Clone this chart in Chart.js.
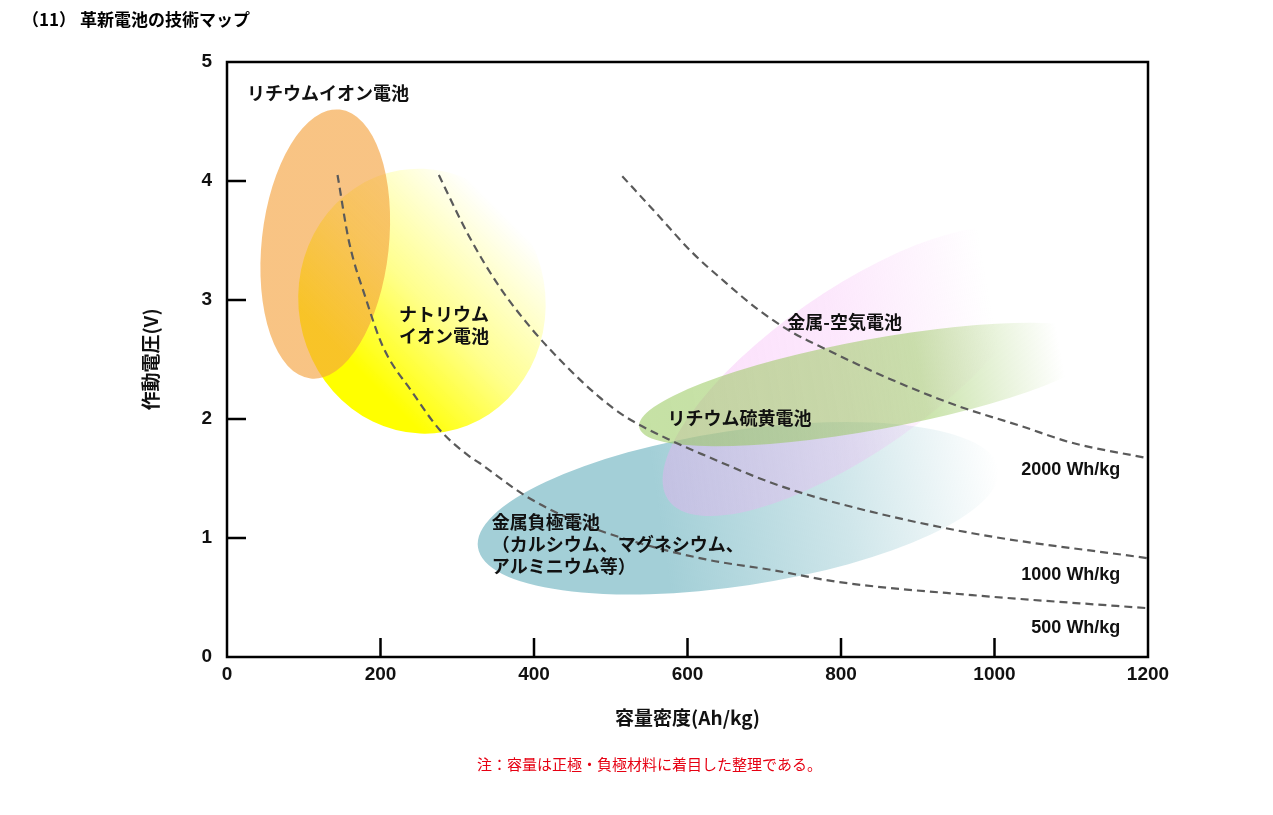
<!DOCTYPE html>
<html lang="ja">
<head>
<meta charset="UTF-8">
<title>革新電池の技術マップ</title>
<script src="https://cdn.jsdelivr.net/npm/chart.js"></script>
<style>
  html, body { margin: 0; padding: 0; background: #fff; }
  #wrap { width: 1273px; height: 815px; }
</style>
</head>
<body>
<div id="wrap"><canvas id="map" width="1273" height="815"></canvas></div>
<script>
// axis ticks
const capacityTicks = [0, 200, 400, 600, 800, 1000, 1200];
const voltageTicks = [0, 1, 2, 3, 4, 5];

// energy density curves (Ah/kg, V)
const curveNames = ['500 Wh/kg', '1000 Wh/kg', '2000 Wh/kg'];
const cap500 = [144, 159, 181, 203, 242, 277, 315, 329, 390, 451, 520, 624, 711, 797, 971, 1200];
const volt500 = [4.05, 3.49, 3.01, 2.61, 2.22, 1.91, 1.69, 1.63, 1.35, 1.15, 0.99, 0.82, 0.73, 0.63, 0.52, 0.41];
const cap1000 = [276, 315, 354, 398, 441, 484, 519, 575, 624, 711, 797, 971, 1200];
const volt1000 = [4.05, 3.54, 3.12, 2.75, 2.45, 2.19, 2.02, 1.83, 1.69, 1.46, 1.29, 1.04, 0.83];
const cap2000 = [515, 562, 606, 649, 692, 736, 779, 866, 952, 1035, 1101, 1200];
const volt2000 = [4.04, 3.71, 3.40, 3.15, 2.92, 2.73, 2.59, 2.33, 2.11, 1.94, 1.80, 1.67];

// battery regions: centre, end of long axis (Ah/kg, V) and short/long axis ratio
const regionNames = ['金属負極電池', '金属-空気電池', 'リチウム硫黄電池', 'ナトリウムイオン電池', 'リチウムイオン電池'];
const regionCap = [666, 815, 842, 254, 128];
const regionVolt = [1.25, 2.40, 2.29, 2.99, 3.47];
const regionEndCap = [1005, 1055, 1147, 225, 147];
const regionEndVolt = [1.58, 3.48, 2.65, 4.09, 4.60];
const regionRatio = [0.295, 0.36, 0.19, 0.93, 0.47];

const JP = '"Noto Sans CJK JP", "Noto Sans", sans-serif';
const NUM = '"Liberation Sans", Arial, sans-serif';

// fill of each region; dir: null = along long axis, otherwise screen angle in degrees
const regionStyle = [
  { rgb: [140, 195, 205], dir: null, from: -1, to: 1, stops: [[0, 0.8], [0.35, 0.8], [0.7, 0.42], [1, 0]] },
  { rgb: [245, 170, 245], dir: 10, from: -0.92, to: 0.66, stops: [[0, 0.38], [0.55, 0.28], [0.85, 0.1], [1, 0]] },
  { rgb: [150, 200, 90], dir: null, from: -1, to: 1, stops: [[0, 0.55], [0.6, 0.5], [0.9, 0]] },
  { rgb: [255, 255, 0], dir: 45, from: -0.7, to: 0.9, stops: [[0, 1], [0.44, 0.45], [1, 0]] },
  { rgb: [244, 162, 62], dir: null, from: -1, to: 1, stops: [[0, 0.64], [1, 0.64]] }
];

// where the texts sit (Ah/kg, V)
const regionText = [
  { lines: ['金属負極電池', '（カルシウム、マグネシウム、', 'アルミニウム等）'], cap: 345, volt: 1.13 },
  { lines: ['金属-空気電池'], cap: 730, volt: 2.81 },
  { lines: ['リチウム硫黄電池'], cap: 574, volt: 2.01 },
  { lines: ['ナトリウム', 'イオン電池'], cap: 224, volt: 2.88 },
  { lines: ['リチウムイオン電池'], cap: 26, volt: 4.74 }
];
const curveText = [{ cap: 1164, volt: 0.244 }, { cap: 1164, volt: 0.69 }, { cap: 1164, volt: 1.575 }];

function rgba(c, a) { return 'rgba(' + c[0] + ',' + c[1] + ',' + c[2] + ',' + a + ')'; }

const mapPlugin = {
  id: 'mapPlugin',
  beforeDatasetsDraw(chart) {
    const ctx = chart.ctx, xs = chart.scales.x, ys = chart.scales.y, area = chart.chartArea;
    ctx.save();
    ctx.beginPath();
    ctx.rect(area.left, area.top, area.right - area.left, area.bottom - area.top);
    ctx.clip();
    regionNames.forEach((name, i) => {
      const cx = xs.getPixelForValue(regionCap[i]), cy = ys.getPixelForValue(regionVolt[i]);
      const ex = xs.getPixelForValue(regionEndCap[i]), ey = ys.getPixelForValue(regionEndVolt[i]);
      const a = Math.hypot(ex - cx, ey - cy);
      const b = a * regionRatio[i];
      const rot = Math.atan2(ey - cy, ex - cx);
      const st = regionStyle[i];
      const ang = st.dir === null ? rot : -st.dir * Math.PI / 180;
      const ux = Math.cos(ang), uy = Math.sin(ang);
      const g = ctx.createLinearGradient(cx + ux * a * st.from, cy + uy * a * st.from, cx + ux * a * st.to, cy + uy * a * st.to);
      st.stops.forEach(s => g.addColorStop(s[0], rgba(st.rgb, s[1])));
      ctx.beginPath();
      ctx.ellipse(cx, cy, a, b, rot, 0, Math.PI * 2);
      ctx.fillStyle = g;
      ctx.fill();
    });
    ctx.restore();
  },
  afterDatasetsDraw(chart) {
    const ctx = chart.ctx, xs = chart.scales.x, ys = chart.scales.y, area = chart.chartArea;
    ctx.save();
    ctx.fillStyle = '#111';
    ctx.textBaseline = 'middle';
    ctx.textAlign = 'left';
    ctx.font = 'bold 18px ' + JP;
    regionText.forEach(t => {
      const x = xs.getPixelForValue(t.cap), y = ys.getPixelForValue(t.volt);
      t.lines.forEach((l, k) => ctx.fillText(l, x, y + k * 22));
    });
    ctx.textAlign = 'right';
    ctx.font = 'bold 18px ' + NUM;
    curveNames.forEach((n, i) => {
      ctx.fillText(n, xs.getPixelForValue(curveText[i].cap), ys.getPixelForValue(curveText[i].volt));
    });

    // frame and inward ticks
    ctx.strokeStyle = '#000';
    ctx.lineWidth = 2.5;
    ctx.strokeRect(area.left, area.top, area.right - area.left, area.bottom - area.top);
    ctx.beginPath();
    capacityTicks.slice(1, -1).forEach(v => {
      const x = xs.getPixelForValue(v);
      ctx.moveTo(x, area.bottom);
      ctx.lineTo(x, area.bottom - 19);
    });
    voltageTicks.slice(1, -1).forEach(v => {
      const y = ys.getPixelForValue(v);
      ctx.moveTo(area.left, y);
      ctx.lineTo(area.left + 19, y);
    });
    ctx.stroke();

    // heading and note
    ctx.textAlign = 'left';
    ctx.fillStyle = '#000';
    ctx.font = 'bold 17px ' + JP;
    ctx.fillText('（11） 革新電池の技術マップ', 22, 20);
    ctx.fillStyle = '#e60012';
    ctx.font = '15px ' + JP;
    ctx.fillText('注：容量は正極・負極材料に着目した整理である。', 477, 764);
    ctx.restore();
  }
};

const curveCap = [cap500, cap1000, cap2000];
const curveVolt = [volt500, volt1000, volt2000];

new Chart(document.getElementById('map'), {
  type: 'line',
  data: {
    datasets: curveNames.map((n, i) => ({
      label: n,
      data: curveCap[i].map((c, j) => ({ x: c, y: curveVolt[i][j] })),
      borderColor: '#5a5a5a',
      borderWidth: 2.2,
      borderDash: [8, 5],
      pointRadius: 0,
      fill: false,
      tension: 0.4,
      cubicInterpolationMode: 'monotone'
    }))
  },
  options: {
    responsive: false,
    animation: false,
    events: [],
    layout: { padding: { left: 0, top: 62, right: 125, bottom: 0 } },
    plugins: { legend: { display: false }, tooltip: { enabled: false } },
    scales: {
      x: {
        type: 'linear', min: 0, max: 1200,
        afterBuildTicks: s => { s.ticks = capacityTicks.map(v => ({ value: v })); },
        afterFit: s => { s.height = 158; },
        grid: { display: false, drawTicks: false },
        border: { display: false },
        ticks: { color: '#111', padding: 6, callback: v => String(v),
          font: { family: NUM, size: 19, weight: 'bold' } },
        title: { display: true, text: '容量密度(Ah/kg)', color: '#111', padding: { top: 0, bottom: 86 },
          font: { family: JP, size: 19, weight: 'bold' } }
      },
      y: {
        type: 'linear', min: 0, max: 5,
        afterBuildTicks: s => { s.ticks = voltageTicks.map(v => ({ value: v })); },
        afterFit: s => { s.width = 227; },
        grid: { display: false, drawTicks: false },
        border: { display: false },
        ticks: { color: '#111', padding: 15, callback: v => String(v),
          font: { family: NUM, size: 19, weight: 'bold' } },
        title: { display: true, text: '作動電圧(V)', color: '#111', padding: { top: 139, bottom: 0 },
          font: { family: JP, size: 19, weight: 'bold' } }
      }
    }
  },
  plugins: [mapPlugin]
});
</script>
</body>
</html>
